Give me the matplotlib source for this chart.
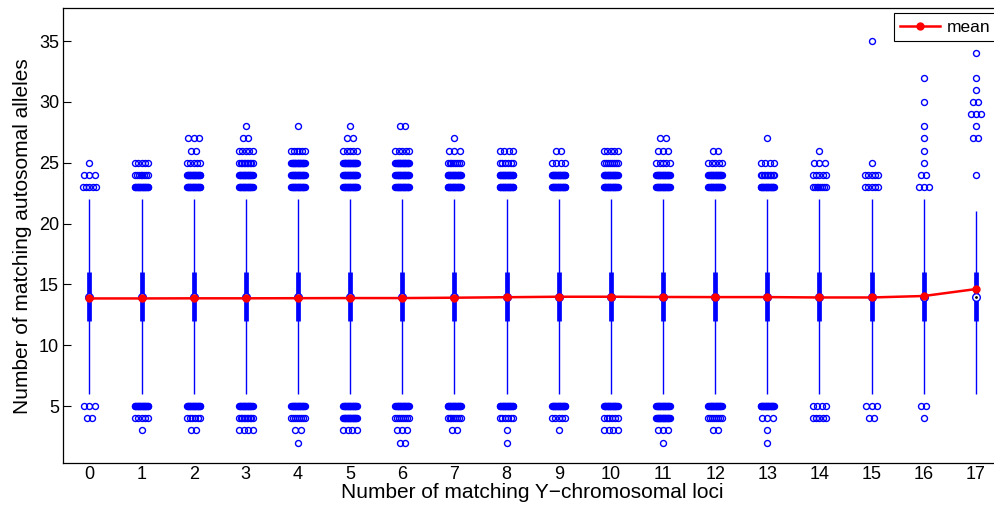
import numpy as np
import matplotlib
matplotlib.use('Agg')
import matplotlib.pyplot as plt

plt.rcParams['font.family'] = ['Liberation Sans', 'DejaVu Sans']

# nombre de loci Y identiques (une boite par valeur)
loci = list(range(18))

# statistiques des boites
q1 = [12] * 18
q3 = [16] * 18
medianes = [14] * 18
whisk_bas = [6] * 18
whisk_haut = [22] * 17 + [21]

# moyennes (ligne rouge)
moyennes = [13.85, 13.85, 13.86, 13.86, 13.87, 13.88, 13.88, 13.91, 13.95,
            13.99, 13.99, 13.97, 13.96, 13.96, 13.93, 13.93, 14.05, 14.62]

# valeurs aberrantes : valeur -> nombre de points (approx.)
aberrants = [
    {25: 1, 24: 3, 23: 5, 5: 3, 4: 2},
    {25: 5, 24: 8, 23: 20, 5: 20, 4: 5, 3: 1},
    {27: 3, 26: 2, 25: 5, 24: 20, 23: 20, 5: 20, 4: 6, 3: 2},
    {28: 1, 27: 2, 26: 5, 25: 10, 24: 20, 23: 20, 5: 20, 4: 10, 3: 4},
    {28: 1, 26: 6, 25: 20, 24: 20, 23: 20, 5: 20, 4: 8, 3: 2, 2: 1},
    {28: 1, 27: 2, 26: 5, 25: 20, 24: 20, 23: 20, 5: 20, 4: 20, 3: 4},
    {28: 2, 26: 5, 25: 20, 24: 20, 23: 20, 5: 20, 4: 8, 3: 3, 2: 2},
    {27: 1, 26: 3, 25: 8, 24: 20, 23: 20, 5: 20, 4: 8, 3: 2},
    {26: 4, 25: 6, 24: 20, 23: 20, 5: 20, 4: 6, 3: 1, 2: 1},
    {26: 2, 25: 4, 24: 20, 23: 20, 5: 20, 4: 5, 3: 1},
    {26: 5, 25: 8, 24: 20, 23: 20, 5: 20, 4: 6, 3: 4},
    {27: 2, 26: 3, 25: 5, 24: 20, 23: 20, 5: 20, 4: 20, 3: 3, 2: 1},
    {26: 2, 25: 5, 24: 20, 23: 20, 5: 20, 4: 8, 3: 2},
    {27: 1, 25: 4, 24: 10, 23: 20, 5: 20, 4: 3, 3: 1, 2: 1},
    {26: 1, 25: 3, 24: 5, 23: 8, 5: 4, 4: 5},
    {35: 1, 25: 1, 24: 5, 23: 5, 5: 3, 4: 2},
    {32: 1, 30: 1, 28: 1, 27: 1, 26: 1, 25: 1, 24: 2, 23: 3, 5: 2, 4: 1},
    {34: 1, 32: 1, 31: 1, 30: 2, 29: 3, 28: 1, 27: 2, 24: 1},
]

fig = plt.figure(figsize=(9.95, 5.05), dpi=100)
ax = fig.add_axes([0.0636, 0.0826, 0.9434, 0.901])

ax.vlines(loci, whisk_bas, whisk_haut, color='b', lw=1, zorder=2)
ax.vlines(loci, q1, q3, color='b', lw=3.4, zorder=2)

# points aberrants, etales horizontalement
xs, ys = [], []
for x, d in zip(loci, aberrants):
    for v, n in d.items():
        h = min(0.13, 0.05 * (n - 1))
        for dx in np.linspace(-h, h, n):
            xs.append(x + dx)
            ys.append(v)
ax.plot(xs, ys, 'o', mfc='none', mec='b', ms=4.3, mew=1.0, zorder=3)

ax.plot(loci, medianes, 'o', mfc='white', mec='b', ms=5.5, mew=1, zorder=4)
ax.plot(loci, medianes, '.', color='k', ms=2, zorder=4)

ax.plot(loci, moyennes, '-o', color='r', lw=1.8, ms=5, label='mean', zorder=5)

ax.set_xlim(-0.5, 17.5)
ax.set_ylim(0.3, 37.7)
ax.set_xticks(loci)
ax.set_yticks([5, 10, 15, 20, 25, 30, 35])
ax.tick_params(axis='y', direction='in', length=6, width=0.8, right=True,
               labelsize=13, pad=3)
ax.tick_params(axis='x', length=0, labelsize=13, pad=2)
for s in ax.spines.values():
    s.set_linewidth(0.9)
ax.spines['right'].set_visible(False)

ax.set_xlabel('Number of matching Y\u2212chromosomal loci', fontsize=15, labelpad=0)
ax.set_ylabel('Number of matching autosomal alleles', fontsize=15, labelpad=5)

leg = ax.legend(loc='upper right', bbox_to_anchor=(1, 1), fancybox=False,
                edgecolor='k', framealpha=1, borderpad=0.35, handlelength=2.3,
                handletextpad=0.4, borderaxespad=0.3, fontsize=12.5)
leg.get_frame().set_linewidth(0.8)

plt.savefig('out.png', dpi=100)
